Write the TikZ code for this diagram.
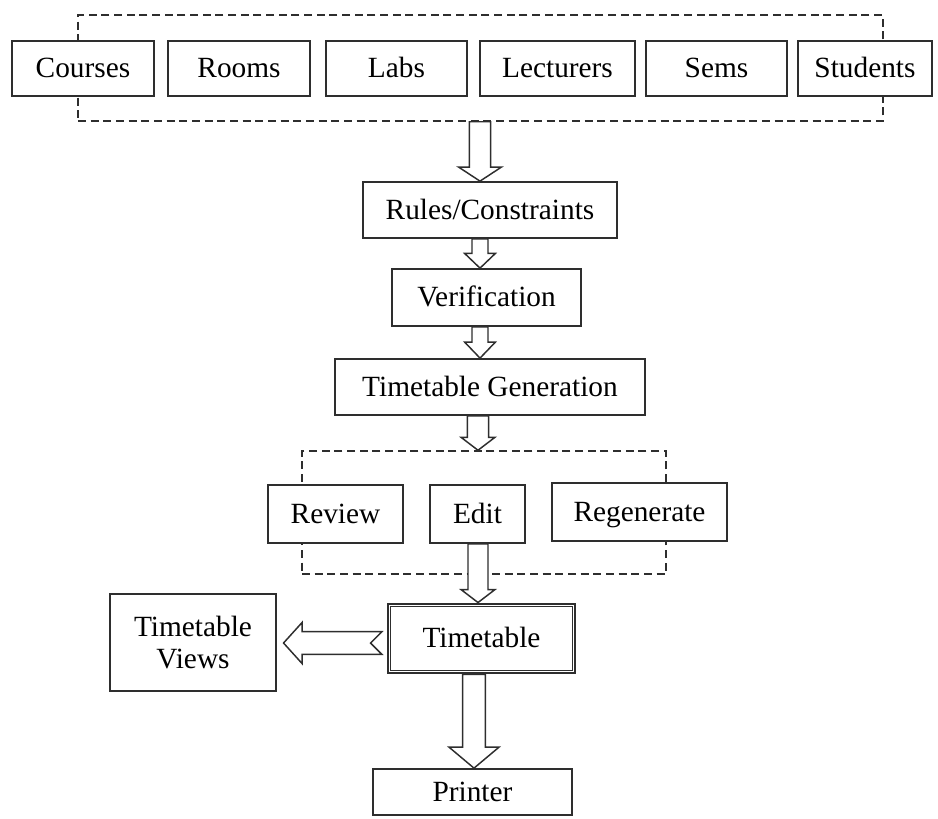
\documentclass[tikz,border=0pt]{standalone}
\usepackage{fontspec}
\setmainfont{Liberation Serif}
\usetikzlibrary{fit,calc}
\definecolor{ln}{HTML}{2E2E2E}
\tikzset{
  box/.style={draw=ln, line width=1.3pt, inner sep=0pt, fill=white, text=black,
    font=\fontsize{22}{25}\selectfont, align=center},
  oneline/.style={text height=16.5pt, text depth=3pt},
  grp/.style={draw=ln, line width=1.1pt, dash pattern=on 6pt off 3.5pt, inner sep=0pt},
  blockarrow/.style={draw=ln, line width=1.1pt, fill=white, line join=miter},
}
\newcommand{\bx}[7][oneline]{%
  \pgfmathsetmacro\bw{(#5-#3)*0.75}%
  \pgfmathsetmacro\bh{(#6-#4)*0.75}%
  \node[box,#1,minimum width=\bw pt,minimum height=\bh pt] (#2) at ({(#3+#5)/2},{(#4+#6)/2}) {#7};}
\newcommand{\dnarrow}[6]{%
  \draw[blockarrow] let \p1=(#2), \p2=(#3), \p3=(#1) in
    (\x3-#4,\y1) -- (\x3-#4,\y2+#6) -- (\x3-#5,\y2+#6) -- (\x3,\y2)
    -- (\x3+#5,\y2+#6) -- (\x3+#4,\y2+#6) -- (\x3+#4,\y1) -- cycle;}
\begin{document}
\begin{tikzpicture}[x=0.75pt,y=-0.75pt]
\useasboundingbox (0,0) rectangle (938,818);
% top group
\node[grp, fit={(78,15) (883,121)}] (g1) {};
\bx{courses}{12}{41}{154}{96}{Courses}
\bx{rooms}{168}{41}{310}{96}{Rooms}
\bx{labs}{326}{41}{467}{96}{Labs}
\bx{lect}{480}{41}{635}{96}{Lecturers}
\bx{sems}{646}{41}{787}{96}{Sems}
\bx{stud}{798}{41}{932}{96}{Students}
% chain
\bx{rules}{363}{182}{617}{238}{Rules/Constraints}
\bx{ver}{392}{269}{581}{326}{Verification}
\bx{gen}{335}{359}{645}{415}{Timetable Generation}
% second group
\node[grp, fit={(302,451) (666,574)}] (g2) {};
\bx{rev}{268}{485}{403}{543}{Review}
\bx{edit}{430}{485}{525}{543}{Edit}
\bx{regen}{552}{483}{727}{541}{Regenerate}
% timetable
\bx[oneline, line width=2.2pt]{tt}{388}{604}{575}{673}{Timetable}
\draw[ln, line width=1pt] ([shift={(3.2pt,-3.2pt)}]tt.north west) rectangle ([shift={(-3.2pt,3.2pt)}]tt.south east);
\bx[align=center]{views}{110}{594}{276}{691}{Timetable\\[-1pt]Views}
\bx{printer}{373}{769}{572}{815}{Printer}
% arrow axes
\coordinate (a1) at (480,0);
\coordinate (a2) at (480,0);
\coordinate (a3) at (478,0);
\coordinate (a4) at (474,0);
\coordinate (la) at (0,643);
% arrows
\dnarrow{a1}{g1.south -| a1}{rules.north -| a1}{8pt}{16pt}{10.5pt}
\dnarrow{a2}{rules.south -| a2}{ver.north -| a2}{6pt}{11.5pt}{11pt}
\dnarrow{a2}{ver.south -| a2}{gen.north -| a2}{6pt}{11.5pt}{12pt}
\dnarrow{a3}{gen.south -| a3}{g2.north -| a3}{8pt}{12.75pt}{9.75pt}
\dnarrow{a3}{edit.south -| a3}{tt.north -| a3}{7.5pt}{12.75pt}{9.75pt}
\dnarrow{a4}{tt.south -| a4}{printer.north -| a4}{8.6pt}{18.75pt}{15.75pt}
% left arrow with notched tail
\draw[blockarrow] let \p1=(tt.west |- la), \p2=(views.east |- la) in
  (\x1-3.5pt,\y1+8.5pt) -- (\x2+19pt,\y1+8.5pt) -- (\x2+19pt,\y1+15.5pt)
  -- (\x2+5pt,\y1) -- (\x2+19pt,\y1-15.5pt) -- (\x2+19pt,\y1-8.5pt)
  -- (\x1-3.5pt,\y1-8.5pt) -- (\x1-12pt,\y1) -- cycle;
\end{tikzpicture}
\end{document}
